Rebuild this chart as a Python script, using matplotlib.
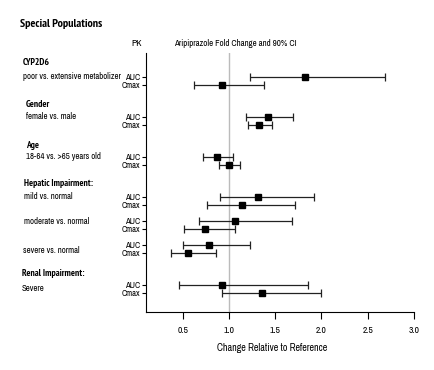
import matplotlib
matplotlib.use("Agg")
import matplotlib.pyplot as plt
from matplotlib import font_manager
from matplotlib.transforms import blended_transform_factory

# pick a narrow sans if one is installed, and a family that really has a bold face
fonts = font_manager.fontManager.ttflist
installed = set(f.name for f in fonts)
narrow = [n for n in ['Liberation Sans Narrow', 'Arial Narrow', 'Archivo Narrow', 'PT Sans Narrow',
                      'Roboto Condensed', 'Arimo', 'Liberation Sans'] if n in installed]
plt.rcParams['font.family'] = narrow[:1] + ['DejaVu Sans']
bold_ok = [n for n in narrow if any(f.name == n and f.weight in ('bold', 700, 'semibold', 600)
                                    for f in fonts)]
bold_family = bold_ok[0] if bold_ok else 'Liberation Sans'

# data
pk_labels = ['AUC', 'Cmax'] * 7
row_pos = [0, 1, 5, 6, 10, 11, 15, 16, 18, 19, 21, 22, 26, 27]
ratio = [1.82, 0.93, 1.42, 1.33, 0.87, 1.00, 1.31, 1.14, 1.07, 0.74, 0.78, 0.56, 0.93, 1.36]
ci_low = [1.23, 0.62, 1.18, 1.21, 0.72, 0.89, 0.90, 0.76, 0.68, 0.51, 0.50, 0.37, 0.46, 0.92]
ci_high = [2.69, 1.38, 1.69, 1.47, 1.04, 1.12, 1.92, 1.71, 1.68, 1.07, 1.23, 0.86, 1.85, 2.00]

headings = ['CYP2D6', 'Gender', 'Age', 'Hepatic Impairment:', 'Renal Impairment:']
heading_pos = [-1.75, 3.4, 8.6, 13.3, 24.6]
heading_x = [23, 26, 26, 24, 22]
comparisons = ['poor vs. extensive metabolizer', 'female vs. male', '18-64 vs. >65 years old',
               'mild vs. normal', 'moderate vs. normal', 'severe vs. normal', 'Severe']
comparison_pos = [0, 5, 10, 15, 18.1, 21.7, 26.4]
comparison_x = [23, 26, 26, 24, 24, 23, 22]

xticks = [0.5, 1.0, 1.5, 2.0, 2.5, 3.0]

W, H = 435, 370
fig = plt.figure(figsize=(W / 100, H / 100), dpi=100)
ax = fig.add_axes([145.7 / W, 1 - 312 / H, (414 - 145.7) / W, (312 - 53) / H])

ax.axvline(1.0, color='#bbbbbb', lw=1, zorder=0)

err = [[r - l for r, l in zip(ratio, ci_low)], [h - r for r, h in zip(ratio, ci_high)]]
ax.errorbar(ratio, row_pos, xerr=err, fmt='s', color='black', ms=5, elinewidth=0.9,
            capsize=3, capthick=0.9, ecolor='#222222')

ax.set_xlim(0.1, 3.0)
ax.set_ylim(29.4, -3)
ax.set_xticks(xticks)
ax.set_xticklabels(['%.1f' % t for t in xticks], fontsize=6.8)
ax.set_yticks(row_pos)
ax.set_yticklabels(pk_labels, fontsize=6.3)
ax.tick_params(axis='x', length=5, width=0.8, pad=5)
ax.tick_params(axis='y', length=3, width=0.8, pad=1)
ax.spines['top'].set_visible(False)
ax.spines['right'].set_visible(False)
ax.spines['left'].set_linewidth(0.8)
ax.spines['bottom'].set_linewidth(0.8)
ax.set_xlabel('Change Relative to Reference', fontsize=7.2, va='center')
ax.xaxis.set_label_coords(0.47, -0.139)

tr = blended_transform_factory(fig.transFigure, ax.transData)
for t, y, x in zip(headings, heading_pos, heading_x):
    ax.text(x / W, y, t, transform=tr, fontsize=6.8, fontweight='bold',
            family=[bold_family, 'DejaVu Sans'], va='center', ha='left')
for t, y, x in zip(comparisons, comparison_pos, comparison_x):
    ax.text(x / W, y, t, transform=tr, fontsize=6.3, va='center', ha='left')

fig.text(20 / W, 1 - 24 / H, 'Special Populations', fontsize=8.6, fontweight='bold',
         family=[bold_family, 'DejaVu Sans'], va='center')
fig.text(131 / W, 1 - 43 / H, 'PK', fontsize=7, va='center')
fig.text(174 / W, 1 - 43 / H, 'Aripiprazole Fold Change and 90% CI', fontsize=6.4, va='center')

fig.savefig('out.png', dpi=100)
